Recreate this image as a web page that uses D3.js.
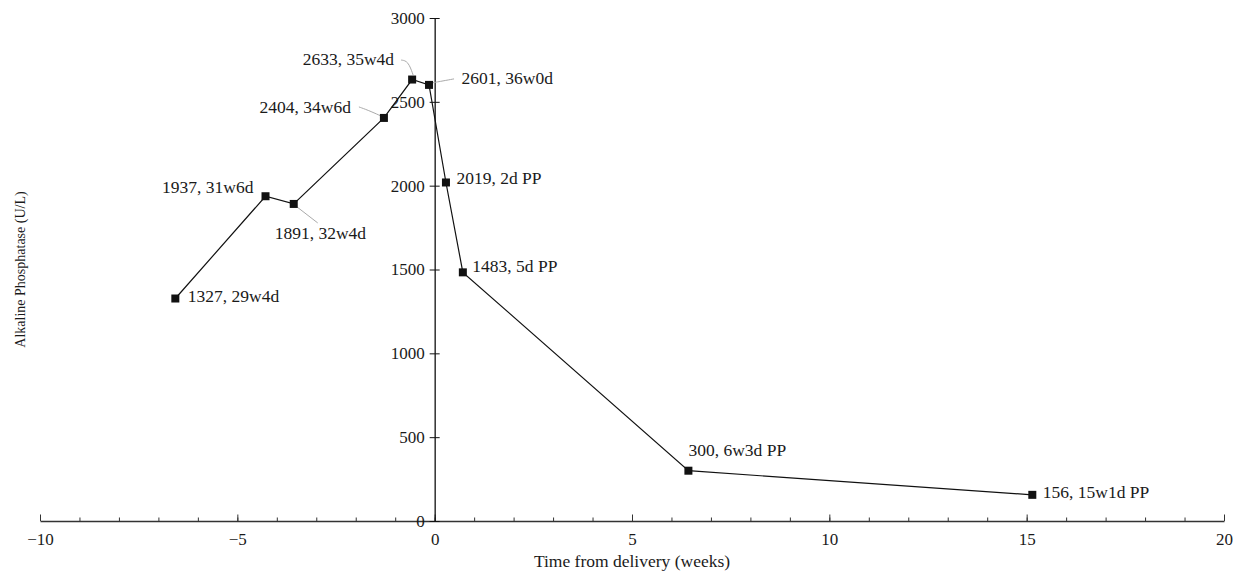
<!DOCTYPE html>
<html>
<head>
<meta charset="utf-8">
<script src="https://cdn.jsdelivr.net/npm/d3@7"></script>
<style>
  body { margin: 0; background: #fff; }
  text { font-family: "Liberation Serif", "DejaVu Serif", serif; fill: #1a1a1a; }
</style>
</head>
<body>
<svg id="chart" width="1240" height="573"></svg>
<script>
// values: weeks from delivery and ALP (U/L)
var weeks = [-6.571, -4.286, -3.571, -1.286, -0.571, -0.143, 0.286, 0.714, 6.429, 15.143];
var alp = [1327, 1937, 1891, 2404, 2633, 2601, 2019, 1483, 300, 156];
var pointLabels = ['1327, 29w4d', '1937, 31w6d', '1891, 32w4d', '2404, 34w6d', '2633, 35w4d',
    '2601, 36w0d', '2019, 2d PP', '1483, 5d PP', '300, 6w3d PP', '156, 15w1d PP'];
var xTicks = [-10, -5, 0, 5, 10, 15, 20];
var yTicks = [0, 500, 1000, 1500, 2000, 2500, 3000];

// label placement relative to each point (px) and leader lines
var labelPos = [
    {dx: 12.5, dy: 3.7, anchor: 'start'},
    {dx: -12, dy: -3, anchor: 'end'},
    {dx: -19, dy: 34.6, anchor: 'start', leader: [[2, 2], [24, 19]]},
    {dx: -33, dy: -5.2, anchor: 'end', leader: [[-25, -11], [-16.5, -8], [-3, -2]]},
    {dx: -18, dy: -14.7, anchor: 'end', leader: [[-11, -19.5], [-4, -18.5], [1, -4.5]]},
    {dx: 32.5, dy: -0.7, anchor: 'start', leader: [[3, -2], [14, -4], [25, -6]]},
    {dx: 10.5, dy: 2, anchor: 'start'},
    {dx: 9.5, dy: -0.2, anchor: 'start'},
    {dx: 0, dy: -14.5, anchor: 'start'},
    {dx: 10.5, dy: 3, anchor: 'start'}
];

var data = weeks.map(function(w, i) {
    return {x: w, y: alp[i], label: pointLabels[i], pos: labelPos[i]};
});

var svg = d3.select('#chart');

var xScale = d3.scaleLinear().domain([-10, 20]).range([40, 1224]);
var yScale = d3.scaleLinear().domain([0, 3000]).range([521, 18]);

// minor x ticks (every week)
svg.append('g')
    .attr('transform', 'translate(0,' + yScale(0) + ')')
    .call(d3.axisBottom(xScale).tickValues(d3.range(-10, 21, 1)).tickSizeInner(-3.5).tickSizeOuter(0).tickFormat(''))
    .call(function(g) { g.select('.domain').remove(); })
    .selectAll('line').attr('stroke', '#333');

// main x axis
var xAxisG = svg.append('g')
    .attr('transform', 'translate(0,' + yScale(0) + ')')
    .call(d3.axisBottom(xScale).tickValues(xTicks).tickSizeInner(-6.5).tickSizeOuter(0).tickPadding(12)
        .tickFormat(function(d) { return d < 0 ? '\u2212' + Math.abs(d) : d; }));
xAxisG.select('.domain').attr('stroke', '#333').attr('stroke-width', 1.3);
xAxisG.selectAll('line').attr('stroke', '#333');
xAxisG.selectAll('text').style('font-size', '17px').attr('fill', '#1a1a1a');

// y axis, ticks crossing the line
var yAxisG = svg.append('g')
    .attr('transform', 'translate(' + xScale(0) + ',0)')
    .call(d3.axisLeft(yScale).tickValues(yTicks).tickSizeInner(5).tickSizeOuter(0).tickPadding(5)
        .tickFormat(d3.format('d')));
yAxisG.select('.domain').attr('stroke', '#111').attr('stroke-width', 1.3);
yAxisG.selectAll('.tick line').attr('x2', -5).attr('x1', 5).attr('stroke', '#111');
yAxisG.selectAll('text').style('font-size', '17px').attr('fill', '#1a1a1a');

// axis titles
svg.append('text')
    .attr('x', xScale(5))
    .attr('y', 567)
    .attr('text-anchor', 'middle')
    .style('font-size', '17.5px')
    .text('Time from delivery (weeks)');

svg.append('text')
    .attr('transform', 'translate(25,' + yScale(1500) + ') rotate(-90)')
    .attr('text-anchor', 'middle')
    .style('font-size', '14px')
    .text('Alkaline Phosphatase (U/L)');

// leader lines
svg.selectAll('.leader')
    .data(data.filter(function(d) { return d.pos.leader; }))
    .enter()
    .append('path')
    .attr('class', 'leader')
    .attr('fill', 'none')
    .attr('stroke', '#aaa')
    .attr('stroke-width', 1)
    .attr('d', function(d) {
        var px = xScale(d.x), py = yScale(d.y);
        return d3.line().curve(d3.curveBasis)(d.pos.leader.map(function(p) { return [px + p[0], py + p[1]]; }));
    });

// series line
svg.append('path')
    .datum(data)
    .attr('fill', 'none')
    .attr('stroke', '#111')
    .attr('stroke-width', 1.2)
    .attr('d', d3.line()
        .x(function(d) { return xScale(d.x); })
        .y(function(d) { return yScale(d.y); }));

// square markers
svg.selectAll('.marker')
    .data(data)
    .enter()
    .append('rect')
    .attr('class', 'marker')
    .attr('x', function(d) { return xScale(d.x) - 4; })
    .attr('y', function(d) { return yScale(d.y) - 4; })
    .attr('width', 8)
    .attr('height', 8)
    .attr('fill', '#111');

// point labels
svg.selectAll('.plabel')
    .data(data)
    .enter()
    .append('text')
    .attr('class', 'plabel')
    .attr('x', function(d) { return xScale(d.x) + d.pos.dx; })
    .attr('y', function(d) { return yScale(d.y) + d.pos.dy; })
    .attr('text-anchor', function(d) { return d.pos.anchor; })
    .style('font-size', '17.5px')
    .text(function(d) { return d.label; });
</script>
</body>
</html>
